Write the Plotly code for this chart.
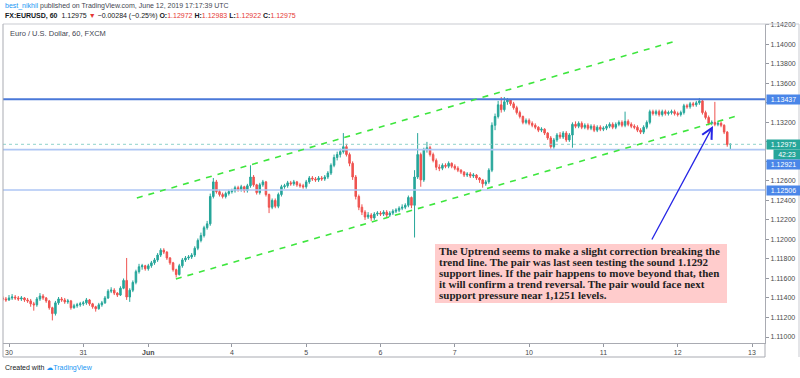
import plotly.graph_objects as go

# ---------------- data (hourly bars, bar 0 = 30 May 2019 00:00 UTC) ----------------
bar_index = list(range(-2, 234))

opens = [
    1.1140, 1.1139,
    1.1138, 1.1140, 1.1141, 1.1140, 1.1139, 1.1140, 1.1138, 1.1137, 1.1134, 1.1133, 1.1139, 1.1142,
    1.1140, 1.1137, 1.1130, 1.1124, 1.1135, 1.1139, 1.1138, 1.1136, 1.1137, 1.1130, 1.1132, 1.1133,
    1.1134, 1.1135, 1.1138, 1.1134, 1.1131, 1.1129, 1.1133, 1.1135, 1.1140, 1.1147, 1.1148, 1.1145,
    1.1143, 1.1150, 1.1158, 1.1141, 1.1148, 1.1156, 1.1167, 1.1172, 1.1173, 1.1170, 1.1173, 1.1176,
    1.1179, 1.1184, 1.1189, 1.1187, 1.1181, 1.1176, 1.1169, 1.1164, 1.1173, 1.1179, 1.1181, 1.1182,
    1.1184, 1.1191, 1.1199, 1.1204, 1.1212, 1.1216, 1.1244, 1.1259, 1.1249, 1.1246, 1.1244, 1.1247,
    1.1249, 1.1250, 1.1253, 1.1251, 1.1254, 1.1250, 1.1255, 1.1264, 1.1256, 1.1248, 1.1256, 1.1259,
    1.1246, 1.1233, 1.1240, 1.1234, 1.1246, 1.1254, 1.1255, 1.1258, 1.1257, 1.1259, 1.1256, 1.1255,
    1.1254, 1.1259, 1.1263, 1.1262, 1.1261, 1.1263, 1.1262, 1.1264, 1.1268, 1.1276, 1.1284, 1.1287,
    1.1290, 1.1295, 1.1287, 1.1278, 1.1264, 1.1244, 1.1233, 1.1228, 1.1223, 1.1225, 1.1222, 1.1226,
    1.1227, 1.1226, 1.1228, 1.1225, 1.1227, 1.1229, 1.1230, 1.1232, 1.1233, 1.1235, 1.1243, 1.1235,
    1.1264, 1.1287, 1.1261, 1.1292, 1.1294, 1.1287, 1.1281, 1.1274, 1.1273, 1.1276, 1.1275, 1.1278,
    1.1275, 1.1273, 1.1271, 1.1269, 1.1266, 1.1267, 1.1265, 1.1266, 1.1263, 1.1261, 1.1257, 1.1259,
    1.1271, 1.1317, 1.1326, 1.1338, 1.1333, 1.1341, 1.1343, 1.1339, 1.1335, 1.1330, 1.1326, 1.1320,
    1.1322, 1.1319, 1.1317, 1.1315, 1.1312, 1.1313, 1.1309, 1.1304, 1.1295, 1.1302, 1.1307, 1.1305,
    1.1309, 1.1302, 1.1307, 1.1318, 1.1316, 1.1319, 1.1315, 1.1317, 1.1314, 1.1316, 1.1312, 1.1315,
    1.1313, 1.1314, 1.1316, 1.1318, 1.1315, 1.1318, 1.1320, 1.1317, 1.1321, 1.1318, 1.1316, 1.1315,
    1.1312, 1.1310, 1.1315, 1.1320, 1.1331, 1.1329, 1.1331, 1.1328, 1.1331, 1.1329, 1.1330, 1.1331,
    1.1329, 1.1328, 1.1330, 1.1337, 1.1336, 1.1339, 1.1338, 1.1340, 1.1342, 1.1330, 1.1325, 1.1319,
    1.1320, 1.1318, 1.1319, 1.1317, 1.1310, 1.12972,
]

highs = [
    1.1142, 1.1141,
    1.1143, 1.1144, 1.1143, 1.1142, 1.1142, 1.1141, 1.1140, 1.1139, 1.1136, 1.1141, 1.1145, 1.1144,
    1.1141, 1.1138, 1.1131, 1.1137, 1.1141, 1.1141, 1.1140, 1.1139, 1.1138, 1.1134, 1.1135, 1.1136,
    1.1137, 1.1140, 1.1139, 1.1135, 1.1132, 1.1135, 1.1137, 1.1142, 1.1149, 1.1151, 1.1150, 1.1146,
    1.1152, 1.1160, 1.1181, 1.1150, 1.1158, 1.1169, 1.1175, 1.1175, 1.1174, 1.1175, 1.1178, 1.1181,
    1.1186, 1.1191, 1.1191, 1.1188, 1.1182, 1.1177, 1.1170, 1.1175, 1.1181, 1.1183, 1.1184, 1.1186,
    1.1193, 1.1201, 1.1207, 1.1214, 1.1219, 1.1247, 1.1263, 1.1261, 1.1251, 1.1248, 1.1249, 1.1251,
    1.1252, 1.1255, 1.1255, 1.1256, 1.1255, 1.1257, 1.1276, 1.1266, 1.1257, 1.1258, 1.1261, 1.1260,
    1.1247, 1.1242, 1.1242, 1.1248, 1.1256, 1.1257, 1.1260, 1.1260, 1.1261, 1.1260, 1.1258, 1.1257,
    1.1261, 1.1265, 1.1265, 1.1264, 1.1265, 1.1265, 1.1266, 1.1270, 1.1278, 1.1287, 1.1290, 1.1293,
    1.1309, 1.1298, 1.1289, 1.1280, 1.1266, 1.1246, 1.1236, 1.1230, 1.1228, 1.1227, 1.1228, 1.1229,
    1.1229, 1.1230, 1.1230, 1.1229, 1.1231, 1.1232, 1.1234, 1.1236, 1.1237, 1.1245, 1.1244, 1.1271,
    1.1309, 1.1289, 1.1294, 1.1300, 1.1296, 1.1289, 1.1283, 1.1277, 1.1278, 1.1278, 1.1280, 1.1279,
    1.1277, 1.1275, 1.1272, 1.1270, 1.1269, 1.1269, 1.1268, 1.1267, 1.1264, 1.1262, 1.1261, 1.1273,
    1.1320, 1.1329, 1.1342, 1.1346, 1.1346, 1.1345, 1.1344, 1.1341, 1.1337, 1.1332, 1.1327, 1.1324,
    1.1324, 1.1321, 1.1319, 1.1316, 1.1315, 1.1314, 1.1310, 1.1306, 1.1304, 1.1309, 1.1310, 1.1311,
    1.1311, 1.1309, 1.1320, 1.1321, 1.1321, 1.1321, 1.1319, 1.1319, 1.1318, 1.1318, 1.1317, 1.1317,
    1.1316, 1.1318, 1.1320, 1.1320, 1.1320, 1.1322, 1.1322, 1.1331, 1.1323, 1.1320, 1.1318, 1.1317,
    1.1314, 1.1317, 1.1322, 1.1333, 1.1333, 1.1333, 1.1333, 1.1333, 1.1333, 1.1332, 1.1333, 1.1333,
    1.1331, 1.1332, 1.1339, 1.1339, 1.1341, 1.1341, 1.1342, 1.1345, 1.1343, 1.1332, 1.1327, 1.1322,
    1.1341, 1.1321, 1.1321, 1.1318, 1.1311, 1.12983,
]

lows = [
    1.1137, 1.1136,
    1.1137, 1.1138, 1.1138, 1.1137, 1.1137, 1.1136, 1.1135, 1.1131, 1.1127, 1.1131, 1.1137, 1.1138,
    1.1135, 1.1128, 1.1117, 1.1122, 1.1133, 1.1136, 1.1134, 1.1134, 1.1128, 1.1129, 1.1130, 1.1131,
    1.1132, 1.1133, 1.1132, 1.1129, 1.1126, 1.1128, 1.1131, 1.1134, 1.1139, 1.1145, 1.1143, 1.1141,
    1.1142, 1.1149, 1.1138, 1.1136, 1.1146, 1.1154, 1.1165, 1.1169, 1.1168, 1.1168, 1.1171, 1.1174,
    1.1177, 1.1182, 1.1185, 1.1179, 1.1174, 1.1167, 1.1161, 1.1163, 1.1171, 1.1177, 1.1179, 1.1180,
    1.1182, 1.1189, 1.1197, 1.1202, 1.1210, 1.1214, 1.1242, 1.1247, 1.1244, 1.1242, 1.1242, 1.1245,
    1.1247, 1.1248, 1.1249, 1.1249, 1.1248, 1.1248, 1.1253, 1.1254, 1.1246, 1.1246, 1.1254, 1.1244,
    1.1227, 1.1231, 1.1232, 1.1232, 1.1244, 1.1252, 1.1253, 1.1255, 1.1255, 1.1254, 1.1253, 1.1252,
    1.1252, 1.1257, 1.1260, 1.1259, 1.1259, 1.1260, 1.1260, 1.1262, 1.1266, 1.1274, 1.1281, 1.1284,
    1.1288, 1.1285, 1.1275, 1.1261, 1.1241, 1.1230, 1.1225, 1.1220, 1.1221, 1.1219, 1.1220, 1.1224,
    1.1224, 1.1224, 1.1223, 1.1223, 1.1225, 1.1227, 1.1228, 1.1230, 1.1231, 1.1233, 1.1232, 1.1202,
    1.1262, 1.1254, 1.1259, 1.1289, 1.1285, 1.1279, 1.1271, 1.1270, 1.1271, 1.1273, 1.1273, 1.1273,
    1.1271, 1.1269, 1.1267, 1.1264, 1.1264, 1.1263, 1.1263, 1.1261, 1.1258, 1.1253, 1.1255, 1.1257,
    1.1269, 1.1312, 1.1324, 1.1330, 1.1331, 1.1338, 1.1337, 1.1333, 1.1328, 1.1324, 1.1318, 1.1318,
    1.1317, 1.1315, 1.1313, 1.1310, 1.1310, 1.1307, 1.1302, 1.1293, 1.1293, 1.1300, 1.1303, 1.1303,
    1.1300, 1.1300, 1.1294, 1.1314, 1.1314, 1.1313, 1.1313, 1.1312, 1.1312, 1.1310, 1.1310, 1.1311,
    1.1311, 1.1312, 1.1314, 1.1313, 1.1313, 1.1316, 1.1315, 1.1315, 1.1316, 1.1314, 1.1313, 1.1310,
    1.1308, 1.1308, 1.1313, 1.1318, 1.1327, 1.1327, 1.1326, 1.1326, 1.1327, 1.1327, 1.1328, 1.1327,
    1.1326, 1.1326, 1.1328, 1.1334, 1.1334, 1.1336, 1.1336, 1.1338, 1.1328, 1.1323, 1.1317, 1.1317,
    1.1316, 1.1316, 1.1315, 1.1308, 1.1295, 1.12922,
]

closes = [
    1.1139, 1.1138,
    1.1140, 1.1141, 1.1140, 1.1139, 1.1140, 1.1138, 1.1137, 1.1134, 1.1133, 1.1139, 1.1142, 1.1140,
    1.1137, 1.1130, 1.1124, 1.1135, 1.1139, 1.1138, 1.1136, 1.1137, 1.1130, 1.1132, 1.1133, 1.1134,
    1.1135, 1.1138, 1.1134, 1.1131, 1.1129, 1.1133, 1.1135, 1.1140, 1.1147, 1.1148, 1.1145, 1.1143,
    1.1150, 1.1158, 1.1141, 1.1148, 1.1156, 1.1167, 1.1172, 1.1173, 1.1170, 1.1173, 1.1176, 1.1179,
    1.1184, 1.1189, 1.1187, 1.1181, 1.1176, 1.1169, 1.1164, 1.1173, 1.1179, 1.1181, 1.1182, 1.1184,
    1.1191, 1.1199, 1.1204, 1.1212, 1.1216, 1.1244, 1.1259, 1.1249, 1.1246, 1.1244, 1.1247, 1.1249,
    1.1250, 1.1253, 1.1251, 1.1254, 1.1250, 1.1255, 1.1264, 1.1256, 1.1248, 1.1256, 1.1259, 1.1246,
    1.1233, 1.1240, 1.1234, 1.1246, 1.1254, 1.1255, 1.1258, 1.1257, 1.1259, 1.1256, 1.1255, 1.1254,
    1.1259, 1.1263, 1.1262, 1.1261, 1.1263, 1.1262, 1.1264, 1.1268, 1.1276, 1.1284, 1.1287, 1.1290,
    1.1295, 1.1287, 1.1278, 1.1264, 1.1244, 1.1233, 1.1228, 1.1223, 1.1225, 1.1222, 1.1226, 1.1227,
    1.1226, 1.1228, 1.1225, 1.1227, 1.1229, 1.1230, 1.1232, 1.1233, 1.1235, 1.1243, 1.1235, 1.1264,
    1.1287, 1.1261, 1.1292, 1.1294, 1.1287, 1.1281, 1.1274, 1.1273, 1.1276, 1.1275, 1.1278, 1.1275,
    1.1273, 1.1271, 1.1269, 1.1266, 1.1267, 1.1265, 1.1266, 1.1263, 1.1261, 1.1257, 1.1259, 1.1271,
    1.1317, 1.1326, 1.1338, 1.1333, 1.1341, 1.1343, 1.1339, 1.1335, 1.1330, 1.1326, 1.1320, 1.1322,
    1.1319, 1.1317, 1.1315, 1.1312, 1.1313, 1.1309, 1.1304, 1.1295, 1.1302, 1.1307, 1.1305, 1.1309,
    1.1302, 1.1307, 1.1318, 1.1316, 1.1319, 1.1315, 1.1317, 1.1314, 1.1316, 1.1312, 1.1315, 1.1313,
    1.1314, 1.1316, 1.1318, 1.1315, 1.1318, 1.1320, 1.1317, 1.1321, 1.1318, 1.1316, 1.1315, 1.1312,
    1.1310, 1.1315, 1.1320, 1.1331, 1.1329, 1.1331, 1.1328, 1.1331, 1.1329, 1.1330, 1.1331, 1.1329,
    1.1328, 1.1330, 1.1337, 1.1336, 1.1339, 1.1338, 1.1340, 1.1342, 1.1330, 1.1325, 1.1319, 1.1320,
    1.1318, 1.1319, 1.1317, 1.1310, 1.12972, 1.12975,
]

day_tick_bars = [0, 24, 45, 72, 96, 120, 144, 168, 192, 216, 240]
day_tick_text = ["30", "31", "<b>Jun</b>", "4", "5", "6", "7", "10", "11", "12", "13"]

price_ticks = [1.110, 1.112, 1.114, 1.116, 1.118, 1.120, 1.122, 1.124, 1.126,
               1.128, 1.130, 1.132, 1.134, 1.136, 1.138, 1.140, 1.142]
# ticks whose labels sit under the price-scale badges in the original
hidden_ticks = [1.128, 1.130, 1.134]
price_tick_text = ["" if v in hidden_ticks else "%.5f" % v for v in price_ticks]

resistance_level = 1.13437
support_levels = [1.12921, 1.12506]
last_price = 1.12975
countdown_text = "42:23"

upper_channel_bars = [41.3, 215.4]
upper_channel_prices = [1.12425, 1.14034]
lower_channel_bars = [53.9, 236.1]
lower_channel_prices = [1.11595, 1.13275]
arrow_tail = [207.4, 1.11984]
arrow_head = [227.4, 1.13163]

note_lines = [
    "The Uptrend seems to make a slight correction breaking the",
    "trend line. The pair was last seen testing the sound 1.1292",
    "support lines. If the pair happens to move beyond that, then",
    "it will confirm a trend reversal. The pair would face next",
    "support pressure near 1,1251 levels.",
]

# ---------------- layout helpers ----------------
W, H = 800, 378
ML, MR, MT, MB = 3, 35, 24, 35
PW, PH = W - ML - MR, H - MT - MB
Y_RANGE = [1.109386, 1.142081]
X_RANGE = [-1.94, 244.2]


def fx(px):
    return (px - ML) / PW


def fy(py):
    return 1 - (py - MT) / PH


def price_to_px(p):
    return MT + (Y_RANGE[1] - p) / (Y_RANGE[1] - Y_RANGE[0]) * PH


UP, DOWN = "#26a69a", "#ef5350"
SANS = "Liberation Sans, Arial, sans-serif"

fig = go.Figure()
fig.add_trace(go.Candlestick(
    x=bar_index, open=opens, high=highs, low=lows, close=closes,
    increasing=dict(line=dict(color=UP, width=1), fillcolor=UP),
    decreasing=dict(line=dict(color=DOWN, width=1), fillcolor=DOWN),
    whiskerwidth=0, hoverinfo="skip", showlegend=False,
))

shapes = []
shapes.append(dict(type="line", xref="paper", yref="y", x0=0, x1=1,
                   y0=last_price, y1=last_price, line=dict(color="#8fd3cb", width=1, dash="dot")))
for lv in support_levels:
    shapes.append(dict(type="line", xref="paper", yref="y", x0=0, x1=1,
                       y0=lv, y1=lv, line=dict(color="#aec6f4", width=1.6)))
shapes.append(dict(type="line", xref="paper", yref="y", x0=0, x1=1,
                   y0=resistance_level, y1=resistance_level, line=dict(color="#4a78d8", width=2)))
for bx, py in ((upper_channel_bars, upper_channel_prices), (lower_channel_bars, lower_channel_prices)):
    shapes.append(dict(type="line", xref="x", yref="y", x0=bx[0], x1=bx[1], y0=py[0], y1=py[1],
                       line=dict(color="#3ee63e", width=1.6, dash="6px,6px")))
shapes.append(dict(type="rect", xref="paper", yref="paper", x0=fx(435), x1=fx(727),
                   y0=fy(303), y1=fy(244), fillcolor="#ffcccc", line=dict(width=0), layer="above"))
frame = "#c9cbd1"
shapes += [
    dict(type="line", xref="paper", yref="paper", x0=fx(3), x1=fx(799), y0=fy(24), y1=fy(24),
         line=dict(color=frame, width=1)),
    dict(type="line", xref="paper", yref="paper", x0=fx(3), x1=fx(3), y0=fy(24), y1=fy(357),
         line=dict(color="#a9abb2", width=1)),
    dict(type="line", xref="paper", yref="paper", x0=fx(3), x1=fx(765), y0=fy(357), y1=fy(357),
         line=dict(color="#a9abb2", width=1)),
    dict(type="line", xref="paper", yref="paper", x0=1, x1=1, y0=fy(343), y1=fy(357),
         line=dict(color="#a9abb2", width=1)),
    dict(type="line", xref="paper", yref="paper", x0=fx(799), x1=fx(799), y0=fy(24), y1=fy(357),
         line=dict(color=frame, width=1)),
]

ann = []
ann.append(dict(x=arrow_head[0], y=arrow_head[1], ax=arrow_tail[0], ay=arrow_tail[1],
                xref="x", yref="y", axref="x", ayref="y", text="", showarrow=True,
                arrowhead=5, arrowsize=1.6, arrowwidth=1.3, arrowcolor="#2626e6", standoff=0))
for k, line in enumerate(note_lines):
    ann.append(dict(xref="paper", yref="paper", x=fx(437), y=fy(250.5 + 11.2 * k),
                    xanchor="left", yanchor="middle", showarrow=False,
                    text="<b>%s</b>" % line,
                    font=dict(family="Liberation Serif, Times New Roman, serif", size=11, color="#1e1e1e")))


def price_label(text, py, bg, x0=766, w=31):
    return dict(xref="paper", yref="paper", x=fx(x0), y=fy(py), xanchor="left", yanchor="middle",
                text=text, showarrow=False, bgcolor=bg, width=w, height=7, borderpad=1,
                align="center", font=dict(family=SANS, size=7, color="white"))


ann.append(price_label("%.5f" % resistance_level, price_to_px(resistance_level), "#4a86e8"))
ann.append(price_label("%.5f" % last_price, price_to_px(last_price), "#26a69a"))
ann.append(price_label(countdown_text, price_to_px(last_price) + 10, "#26a69a", x0=773, w=24))
ann.append(price_label("%.5f" % support_levels[0], price_to_px(last_price) + 20, "#4a86e8"))
ann.append(price_label("%.5f" % support_levels[1], price_to_px(support_levels[1]), "#4a86e8"))

RED = "#e53935"
ann.append(dict(xref="paper", yref="paper", x=fx(3), y=fy(6), xanchor="left", yanchor="middle",
                showarrow=False, font=dict(family=SANS, size=7, color="#434651"),
                text='<span style="color:#2196f3">best_nikhil</span> published on TradingView.com, '
                     'June 12, 2019 17:17:39 UTC'))
ann.append(dict(xref="paper", yref="paper", x=fx(3), y=fy(15.7), xanchor="left", yanchor="middle",
                showarrow=False, font=dict(family=SANS, size=7, color="#131722"),
                text=('<b>FX:EURUSD, 60</b>  1.12975 <span style="color:%s">▼</span> −0.00284 (−0.25%%) '
                      '<b>O:</b><span style="color:%s">1.12972</span> <b>H:</b><span style="color:%s">1.12983</span> '
                      '<b>L:</b><span style="color:%s">1.12922</span> <b>C:</b><span style="color:%s">1.12975</span>')
                % (RED, RED, RED, RED, RED)))
ann.append(dict(xref="paper", yref="paper", x=fx(8), y=fy(33.5), xanchor="left", yanchor="middle",
                showarrow=False, font=dict(family=SANS, size=7.5, color="#434651"),
                text="Euro / U.S. Dollar, 60, FXCM"))
ann.append(dict(xref="paper", yref="paper", x=fx(3), y=fy(368), xanchor="left", yanchor="middle",
                showarrow=False, font=dict(family=SANS, size=7, color="#131722"),
                text='Created with <span style="color:#2196f3;font-family:DejaVu Sans">☁</span>'
                     '<span style="color:#2196f3">TradingView</span>'))

fig.update_layout(
    width=W, height=H,
    margin=dict(l=ML, r=MR, t=MT, b=MB, pad=0),
    paper_bgcolor="white", plot_bgcolor="white",
    showlegend=False, hovermode=False,
    shapes=shapes, annotations=ann,
    xaxis=dict(range=X_RANGE, tickmode="array", tickvals=day_tick_bars, ticktext=day_tick_text,
               ticks="outside", ticklen=3, tickcolor="#9598a1", showgrid=False, zeroline=False,
               showline=True, linecolor="#a9abb2", linewidth=1, rangeslider=dict(visible=False),
               tickfont=dict(family=SANS, size=7, color="#4a4a4a"), fixedrange=True),
    yaxis=dict(side="right", range=Y_RANGE, tickmode="array", tickvals=price_ticks,
               ticktext=price_tick_text, ticks="outside", ticklen=3, tickcolor="#9598a1",
               showgrid=False, zeroline=False, showline=True, linecolor="#a9abb2", linewidth=1,
               tickfont=dict(family=SANS, size=7, color="#4a4a4a"), fixedrange=True),
)

fig.write_html(
    "out.html",
    config={"displayModeBar": False, "staticPlot": True},
    post_script="document.body.style.margin='0';document.body.style.padding='0';"
                "document.body.style.overflow='hidden';",
)
